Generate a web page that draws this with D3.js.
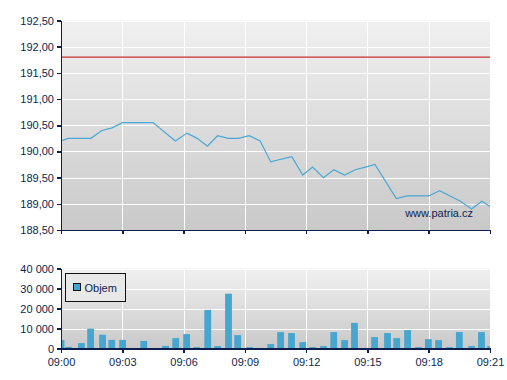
<!DOCTYPE html>
<meta charset="utf-8">
<title>Intraday</title>
<style>
body { margin: 0; background: #fff; }
text { font-family: "Liberation Sans", Arial, sans-serif; font-size: 11px; fill: #0e1f4d; }
.grid line { stroke: #fff; stroke-width: 1; shape-rendering: crispEdges; }
.axis path, .axis line { stroke: #0e1f4d; stroke-width: 1.5; shape-rendering: crispEdges; }
</style>
<svg></svg>
<script src="https://cdn.jsdelivr.net/npm/d3@7"></script>
<script>
var width = 507, height = 380;

// price line: time, price
var priceTimes = ["09:00:00","09:00:21","09:01:28","09:02:00","09:02:30","09:03:00","09:04:30","09:05:36","09:06:10",
  "09:06:40","09:07:10","09:07:40","09:08:11","09:08:41","09:09:13","09:09:45","09:10:16","09:10:45","09:11:18",
  "09:11:50","09:12:19","09:12:51","09:13:21","09:13:53","09:14:24","09:14:54","09:15:22","09:16:25","09:16:57",
  "09:18:00","09:18:32","09:19:03","09:19:33","09:20:06","09:20:36","09:21:00"];
var priceValues = [190.20,190.25,190.25,190.40,190.45,190.55,190.55,190.20,190.35,
  190.25,190.10,190.30,190.25,190.25,190.30,190.20,189.80,189.85,189.90,
  189.55,189.70,189.50,189.65,189.55,189.65,189.70,189.75,189.10,189.15,
  189.15,189.25,189.15,189.05,188.90,189.05,188.95];
var refPrice = 191.80;

// volume bars: time, volume
var volTimes = ["09:00:00","09:00:22","09:01:00","09:01:27","09:02:02","09:02:29","09:03:01","09:04:03","09:05:07",
  "09:05:37","09:06:09","09:06:38","09:07:11","09:07:40","09:08:12","09:08:39","09:09:14","09:10:16","09:10:45",
  "09:11:17","09:11:50","09:12:19","09:12:51","09:13:21","09:13:53","09:14:22","09:15:21","09:15:59","09:16:26",
  "09:16:58","09:17:30","09:17:59","09:18:29","09:19:01","09:19:30","09:20:06","09:20:35","09:21:02"];
var volValues = [4200,800,2700,9900,6900,4300,4300,3800,1300,
  5200,7200,700,19300,1200,27400,6700,700,2200,8200,
  7700,3200,700,1200,8200,4200,12800,5700,7700,5200,
  9200,700,4700,4200,700,8200,1200,8200,1200];

var priceTicks = [188.5,189,189.5,190,190.5,191,191.5,192,192.5];
var volTicks = [0,10000,20000,30000,40000];

var parseT = d3.timeParse("%Y-%m-%d %H:%M:%S");
function t(s) { return parseT("2000-01-01 " + s); }

var locale = d3.formatLocale({decimal: ",", thousands: " ", grouping: [3], currency: ["", ""]});
var fmtPrice = locale.format(",.2f"), fmtVol = locale.format(",d");

var svg = d3.select("svg").attr("width", width).attr("height", height);

var x = d3.scaleTime()
    .domain([t("09:00:00"), t("09:21:00")])
    .range([61, 490]);
var yP = d3.scaleLinear().domain([188.5, 192.5]).range([230, 20.5]);
var yV = d3.scaleLinear().domain([0, 40000]).range([348.5, 268.5]);
var timeTicks = x.ticks(d3.timeMinute.every(3));

// background gradient
var defs = svg.append("defs");
var grad = defs.append("linearGradient").attr("id", "bg")
    .attr("x1", 0).attr("y1", 0).attr("x2", 0).attr("y2", 1);
grad.append("stop").attr("offset", "0%").attr("stop-color", "#f0f0f0");
grad.append("stop").attr("offset", "100%").attr("stop-color", "#c9c9c9");

function panel(y, id) {
  var r = y.range();
  svg.append("rect")
      .attr("x", x.range()[0]).attr("y", r[1])
      .attr("width", x.range()[1] - x.range()[0]).attr("height", r[0] - r[1])
      .style("fill", "url(#bg)");
  defs.append("clipPath").attr("id", id).append("rect")
      .attr("x", x.range()[0]).attr("y", r[1])
      .attr("width", x.range()[1] - x.range()[0]).attr("height", r[0] - r[1]);
}
function grid(y, ticks) {
  var g = svg.append("g").attr("class", "grid");
  g.selectAll(".h").data(ticks).enter().append("line")
      .attr("x1", x.range()[0]).attr("x2", x.range()[1])
      .attr("y1", function(d) { return Math.round(y(d)) + 0.5; })
      .attr("y2", function(d) { return Math.round(y(d)) + 0.5; });
  g.selectAll(".v").data(timeTicks).enter().append("line")
      .attr("x1", function(d) { return Math.round(x(d)) + 0.5; })
      .attr("x2", function(d) { return Math.round(x(d)) + 0.5; })
      .attr("y1", y.range()[1]).attr("y2", y.range()[0]);
}

// top panel
panel(yP, "clipP");
grid(yP, priceTicks);

svg.append("line")
    .attr("x1", x.range()[0]).attr("x2", x.range()[1])
    .attr("y1", yP(refPrice)).attr("y2", yP(refPrice))
    .style("stroke", "#c8302f").style("stroke-width", 1.2);

var line = d3.line()
    .x(function(d, i) { return x(t(priceTimes[i])); })
    .y(function(d) { return yP(d); });
svg.append("path")
    .datum(priceValues)
    .attr("clip-path", "url(#clipP)")
    .attr("d", line)
    .style("fill", "none").style("stroke", "#4aa8d4").style("stroke-width", 1.2);

svg.append("text")
    .attr("x", 473).attr("y", 216.5)
    .style("text-anchor", "end")
    .text("www.patria.cz");

svg.append("g").attr("class", "axis")
    .attr("transform", "translate(61,0)")
    .call(d3.axisLeft(yP).tickValues(priceTicks).tickFormat(fmtPrice).tickSize(4).tickPadding(3).tickSizeOuter(0));
svg.append("g").attr("class", "axis")
    .attr("transform", "translate(0,230)")
    .call(d3.axisBottom(x).tickValues(timeTicks).tickFormat("").tickSize(4).tickSizeOuter(0));

// bottom panel
panel(yV, "clipV");
grid(yV, volTicks);

var bw = x(t("09:00:20")) - x(t("09:00:00"));
svg.append("g").attr("clip-path", "url(#clipV)")
  .selectAll(".bar").data(volValues).enter().append("rect")
    .attr("class", "bar")
    .attr("x", function(d, i) { return x(t(volTimes[i])) - bw / 2; })
    .attr("y", function(d) { return yV(d); })
    .attr("width", bw)
    .attr("height", function(d) { return yV(0) - yV(d); })
    .style("fill", "#46a6d0");

svg.append("g").attr("class", "axis")
    .attr("transform", "translate(61,0)")
    .call(d3.axisLeft(yV).tickValues(volTicks).tickFormat(fmtVol).tickSize(4).tickPadding(3).tickSizeOuter(0));
svg.append("g").attr("class", "axis")
    .attr("transform", "translate(0,348.5)")
    .call(d3.axisBottom(x).tickValues(timeTicks).tickFormat(d3.timeFormat("%H:%M")).tickSize(4).tickPadding(6).tickSizeOuter(0));
svg.selectAll(".axis .domain").style("stroke-width", 1.5);

// legend
var lg = svg.append("g").attr("transform", "translate(65.5,273.5)");
lg.append("rect").attr("width", 60).attr("height", 28)
    .style("fill", "#e8e8e8").style("stroke", "#111").style("stroke-width", 1);
lg.append("rect").attr("x", 8).attr("y", 10).attr("width", 7).attr("height", 7)
    .style("fill", "#46a6d0").style("stroke", "#111").style("stroke-width", 1);
lg.append("text").attr("x", 19).attr("y", 18).text("Objem");
</script>
